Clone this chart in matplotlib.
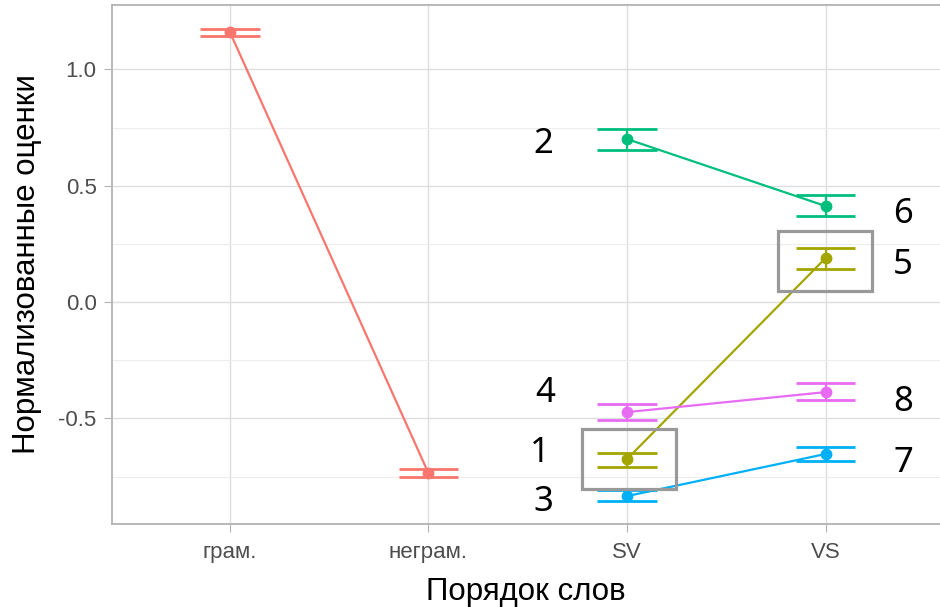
import matplotlib.pyplot as plt
from matplotlib.patches import Rectangle

plt.rcParams['font.family'] = ['Liberation Sans', 'DejaVu Sans']
plt.rcParams['axes.unicode_minus'] = False

categories = ['грам.', 'неграм.', 'SV', 'VS']

# grammaticality control
gram_mean = [1.161, -0.735]
gram_lo = [1.146, -0.752]
gram_hi = [1.176, -0.718]

# SV / VS series: means, lower, upper
green_mean = [0.701, 0.413]
green_lo = [0.653, 0.370]
green_hi = [0.744, 0.460]

olive_mean = [-0.675, 0.189]
olive_lo = [-0.709, 0.142]
olive_hi = [-0.649, 0.232]

blue_mean = [-0.834, -0.653]
blue_lo = [-0.856, -0.684]
blue_hi = [-0.808, -0.623]

pink_mean = [-0.473, -0.387]
pink_lo = [-0.507, -0.421]
pink_hi = [-0.439, -0.348]

# number labels next to the points
labels = ['2', '6', '5', '4', '1', '3', '8', '7']
label_x = [1.58, 3.39, 3.39, 1.59, 1.56, 1.58, 3.39, 3.39]
label_y = [0.68, 0.38, 0.16, -0.39, -0.65, -0.86, -0.43, -0.69]

fig = plt.figure(figsize=(9.4, 6.07), dpi=100)
ax = fig.add_axes([0.1191, 0.1367, 0.881, 0.855])

series = [
    ([0, 1], gram_mean, gram_lo, gram_hi, '#F8766D'),
    ([2, 3], green_mean, green_lo, green_hi, '#00BF7D'),
    ([2, 3], olive_mean, olive_lo, olive_hi, '#A3A500'),
    ([2, 3], blue_mean, blue_lo, blue_hi, '#00B0F6'),
    ([2, 3], pink_mean, pink_lo, pink_hi, '#E76BF3'),
]
for xs, m, lo, hi, col in series:
    ax.plot(xs, m, color=col, lw=1.6, zorder=3)
    ax.plot(xs, m, 'o', color=col, ms=7.5, zorder=4)
    ax.hlines(lo, [x - 0.15 for x in xs], [x + 0.15 for x in xs], color=col, lw=2.0, zorder=3)
    ax.hlines(hi, [x - 0.15 for x in xs], [x + 0.15 for x in xs], color=col, lw=2.0, zorder=3)
    ax.vlines(xs, lo, hi, color=col, lw=1.6, zorder=3)

ax.add_patch(Rectangle((1.773, -0.804), 0.474, 0.258, fill=False, ec='#999999', lw=2.3, zorder=5))
ax.add_patch(Rectangle((2.761, 0.047), 0.473, 0.258, fill=False, ec='#999999', lw=2.3, zorder=5))

for t, x, y in zip(labels, label_x, label_y):
    ax.text(x, y, t, fontsize=25, color='black', ha='center', va='center', family='Noto Sans')

ax.set_xlim(-0.594, 3.577)
ax.set_ylim(-0.954, 1.277)
ax.set_xticks(range(len(categories)))
ax.set_xticklabels(categories)
ax.set_yticks([-0.5, 0.0, 0.5, 1.0])
ax.set_yticks([-0.75, -0.25, 0.25, 0.75], minor=True)
ax.grid(True, which='major', color='#DEDEDE', lw=1.0)
ax.grid(True, which='minor', axis='y', color='#EDEDED', lw=0.8)
ax.set_axisbelow(True)
ax.tick_params(which='major', length=6, color='#B3B3B3', labelcolor='#4D4D4D', labelsize=16)
ax.tick_params(axis='x', pad=7)
ax.tick_params(axis='y', pad=5)
ax.tick_params(which='minor', length=0)
for s in ['left', 'top', 'bottom']:
    ax.spines[s].set_color('#B3B3B3')
    ax.spines[s].set_linewidth(1.3)
ax.spines['right'].set_visible(False)

ax.set_xlabel('Порядок слов', fontsize=22.5, labelpad=10)
ax.set_ylabel('Нормализованные оценки', fontsize=22.5, labelpad=12)

fig.savefig('out.png', dpi=100)
